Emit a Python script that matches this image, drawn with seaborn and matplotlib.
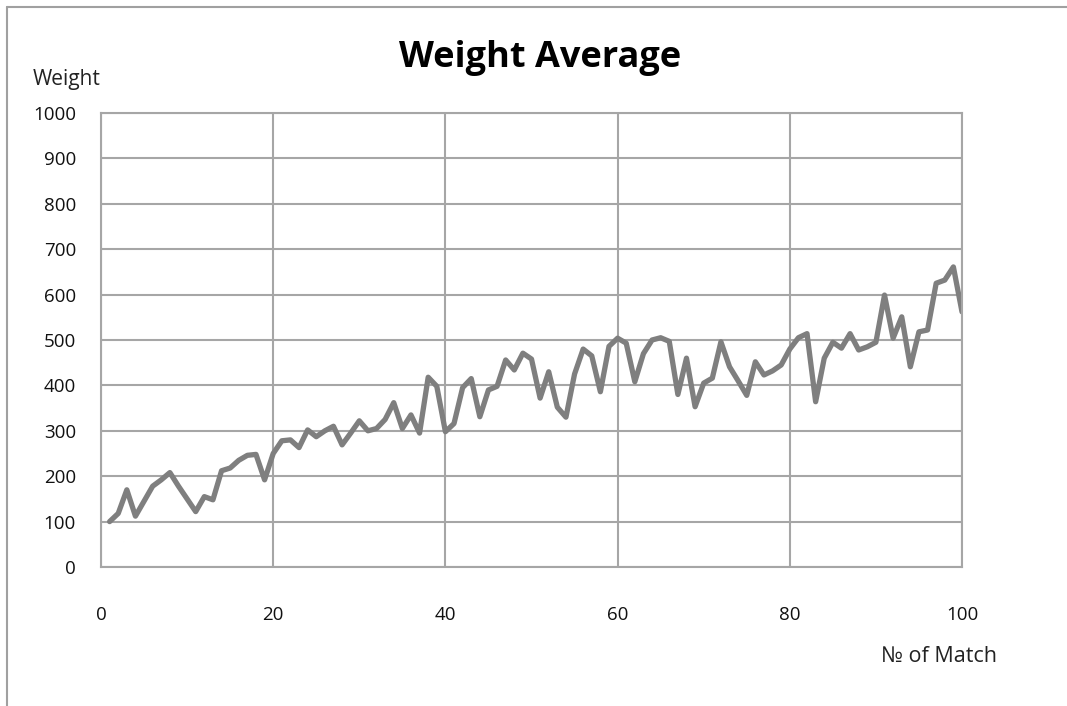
import matplotlib
matplotlib.use("Agg")
import matplotlib.pyplot as plt
from matplotlib.lines import Line2D
import seaborn as sns
import pandas as pd

# ---- data ----
match_no = list(range(1, 101))
weight = [
    100, 118, 170, 112, 145, 178, 192, 208, 178, 150,
    122, 155, 148, 212, 218, 235, 246, 248, 192, 250,
    278, 280, 263, 302, 287, 300, 310, 269, 295, 322,
    300, 305, 325, 362, 305, 335, 295, 418, 398, 298,
    316, 395, 415, 331, 390, 398, 456, 434, 471, 458,
    372, 430, 352, 330, 425, 480, 465, 386, 486, 504,
    493, 408, 470, 500, 505, 497, 380, 460, 353, 405,
    416, 496, 441, 410, 378, 452, 423, 432, 445, 480,
    505, 514, 364, 460, 495, 482, 514, 478, 485, 495,
    599, 504, 551, 441, 518, 522, 625, 632, 661, 562,
]
x_ticks = [0, 20, 40, 60, 80, 100]
y_ticks = [0, 100, 200, 300, 400, 500, 600, 700, 800, 900, 1000]
title = "Weight Average"
y_label = "Weight"
x_label = "№ of Match"

df = pd.DataFrame({"match": match_no, "weight": weight})

sns.set_style("white")
plt.rcParams["font.family"] = ["Open Sans", "DejaVu Sans"]

W, H = 1067, 706
fig = plt.figure(figsize=(W / 100, H / 100), dpi=100)
ax = fig.add_axes([101 / W, 1 - 567 / H, (962 - 101) / W, (567 - 113) / H])

grid_c = "#a6a6a6"
sns.lineplot(data=df, x="match", y="weight", ax=ax, color="#7f7f7f",
             linewidth=3.8, solid_joinstyle="round", solid_capstyle="round")

ax.set_xlim(0, 100)
ax.set_ylim(0, 1000)
ax.set_xticks(x_ticks)
ax.set_yticks(y_ticks)
ax.set_xlabel("")
ax.set_ylabel("")
ax.grid(True, color=grid_c, linewidth=1.5)
ax.set_axisbelow(True)
for s in ax.spines.values():
    s.set_color(grid_c)
    s.set_linewidth(1.5)
ax.tick_params(axis="both", direction="out", length=7, width=1.5, color=grid_c,
               labelsize=13.5, labelcolor="#111111")
ax.tick_params(axis="x", pad=21)
ax.tick_params(axis="y", pad=11)

fig.text(540 / W, 1 - 58 / H, title, ha="center", va="center",
         fontsize=26, fontweight="bold", color="black")
fig.text(33 / W, 1 - 80 / H, y_label, ha="left", va="center",
         fontsize=15, color="#222222")
fig.text(939 / W, 1 - 657 / H, x_label, ha="center", va="center",
         fontsize=15.5, color="#222222")

# outer chart frame
frame_c = "#a0a0a0"
fig.add_artist(Line2D([7 / W, 7 / W], [0, 1 - 7 / H], transform=fig.transFigure,
                      color=frame_c, linewidth=1.5))
fig.add_artist(Line2D([7 / W, 1], [1 - 7 / H, 1 - 7 / H], transform=fig.transFigure,
                      color=frame_c, linewidth=1.5))

fig.savefig("out.png", dpi=100)
